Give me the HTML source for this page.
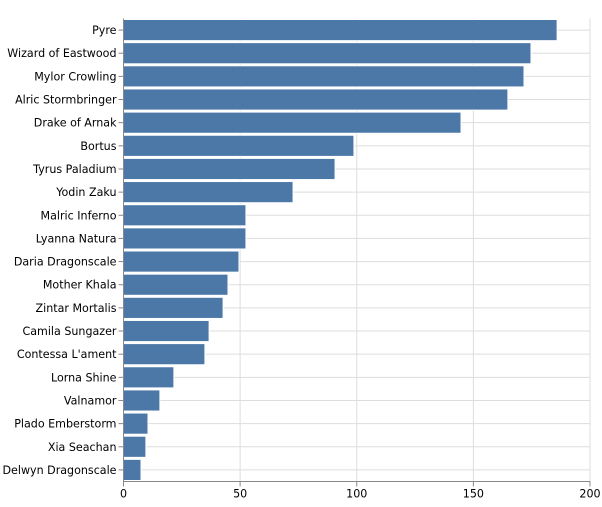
<!DOCTYPE html><html><head><style>body{margin:0;background:#fff}</style></head><body>
<svg width="602" height="502" xmlns="http://www.w3.org/2000/svg" font-family="'DejaVu Sans','Liberation Sans',sans-serif">
<g id="g"></g>
</svg>
<script>
(function(){
var names=["Pyre","Wizard of Eastwood","Mylor Crowling","Alric Stormbringer","Drake of Arnak","Bortus","Tyrus Paladium","Yodin Zaku","Malric Inferno","Lyanna Natura","Daria Dragonscale","Mother Khala","Zintar Mortalis","Camila Sungazer","Contessa L'ament","Lorna Shine","Valnamor","Plado Emberstorm","Xia Seachan","Delwyn Dragonscale"];
var vals=[185.9,174.7,171.7,164.8,144.7,98.8,90.7,72.7,52.5,52.5,49.5,44.8,42.7,36.7,34.9,21.6,15.6,10.5,9.6,7.5];
var x0=123.5,sc=(590-123.5)/200,t0=18.5,bw=23.15,bot=t0+20*bw;
var s='',v,x;
for(v=0;v<=200;v+=50){x=x0+v*sc;s+='<line x1="'+x+'" y1="'+t0+'" x2="'+x+'" y2="'+bot+'" stroke="#ddd"/>';}
names.forEach(function(n,i){var c=t0+bw*(i+0.5);s+='<line x1="'+x0+'" y1="'+c+'" x2="590" y2="'+c+'" stroke="#ddd"/>';});
names.forEach(function(n,i){var y=t0+bw*i+1;var c=t0+bw*(i+0.5);
s+='<rect x="'+x0+'" y="'+y+'" width="'+(vals[i]*sc)+'" height="'+(bw-2)+'" fill="#4c78a8" stroke="#fff" stroke-width="1"/>';
s+='<line x1="'+(x0-5)+'" y1="'+c+'" x2="'+x0+'" y2="'+c+'" stroke="#888"/>';
s+='<text x="'+(x0-7)+'" y="'+(c+4)+'" font-size="11.1" text-anchor="end" fill="#000">'+n.replace("'","&#39;")+'</text>';});
s+='<line x1="'+x0+'" y1="'+t0+'" x2="'+x0+'" y2="'+bot+'" stroke="#888"/>';
s+='<line x1="'+x0+'" y1="'+bot+'" x2="590" y2="'+bot+'" stroke="#888"/>';
for(v=0;v<=200;v+=50){x=x0+v*sc;s+='<line x1="'+x+'" y1="'+bot+'" x2="'+x+'" y2="'+(bot+5)+'" stroke="#888"/><text x="'+x+'" y="'+(bot+16)+'" font-size="11.1" text-anchor="middle">'+v+'</text>';}
document.getElementById('g').innerHTML=s;
})();
</script>
</body></html>
